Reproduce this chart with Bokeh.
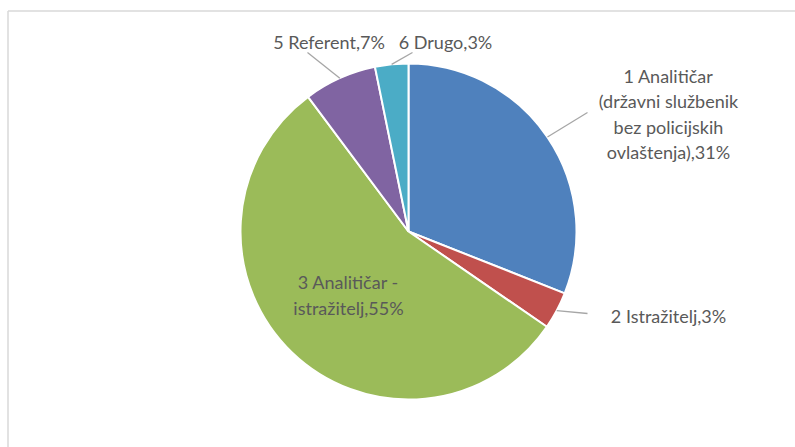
import math
from bokeh.plotting import figure
from bokeh.models import Range1d, ColumnDataSource
from bokeh.embed import file_html
from bokeh.resources import INLINE
from bokeh.core.properties import value

# ---- data ----
categories = [
    "1 Analitičar\n(državni službenik\nbez policijskih\novlaštenja)",
    "2 Istražitelj",
    "3 Analitičar -\nistražitelj",
    "5 Referent",
    "6 Drugo",
]
shares = [31.0, 3.6, 55.2, 7.0, 3.2]
pct_labels = ["31%", "3%", "55%", "7%", "3%"]
colors = ["#4F81BD", "#C0504D", "#9BBB59", "#8064A2", "#4BACC6"]

# ---- layout (screen pixels) ----
W, H = 795, 447
def dy(sy):
    return H - sy

cx, cy, R = 408, dy(231), 168
label_pos = [(668, 113.5), (668, 315), (348, 294.5), (328.5, 41), (445, 41)]
leader_end = [(587, 112), (587, 313), None, (307, 52), (412, 52)]

total = sum(shares)
starts, ends, mids = [], [], []
acc = 0.0
for s in shares:
    a0 = math.pi / 2 - 2 * math.pi * acc / total
    acc += s
    a1 = math.pi / 2 - 2 * math.pi * acc / total
    starts.append(a0)
    ends.append(a1)
    mids.append((a0 + a1) / 2)

p = figure(width=W, height=H, output_backend="svg", toolbar_location=None,
           x_range=Range1d(0, W), y_range=Range1d(0, H),
           x_axis_location=None, y_axis_location=None, min_border=0,
           outline_line_color=None, background_fill_color="white",
           border_fill_color="white")
p.grid.visible = False

# chart area border (top and left visible)
p.segment(x0=[7.5, 7.5], y0=[dy(10.5), dy(10.5)],
          x1=[W, 7.5], y1=[dy(10.5), 0],
          line_color="#D9D9D9", line_width=1.5)

src = ColumnDataSource(dict(start=starts, end=ends, color=colors))
p.wedge(x=cx, y=cy, radius=R, start_angle="start", end_angle="end",
        direction="clock", fill_color="color", line_color="white",
        line_width=2, source=src)

# leader lines
lx0, ly0, lx1, ly1 = [], [], [], []
for m, e in zip(mids, leader_end):
    if e is None:
        continue
    lx0.append(cx + R * math.cos(m))
    ly0.append(cy + R * math.sin(m))
    lx1.append(e[0])
    ly1.append(dy(e[1]))
p.segment(x0=lx0, y0=ly0, x1=lx1, y1=ly1, line_color="#A6A6A6", line_width=1.3)

texts = [c + "," + v for c, v in zip(categories, pct_labels)]
p.text(x=[q[0] for q in label_pos], y=[dy(q[1]) for q in label_pos], text=texts,
       text_font=value("Lato"), text_font_size="18px", text_color="#595959",
       text_align="center", text_baseline="middle", text_line_height=1.16)

open("out.html", "w").write(file_html(p, INLINE))
